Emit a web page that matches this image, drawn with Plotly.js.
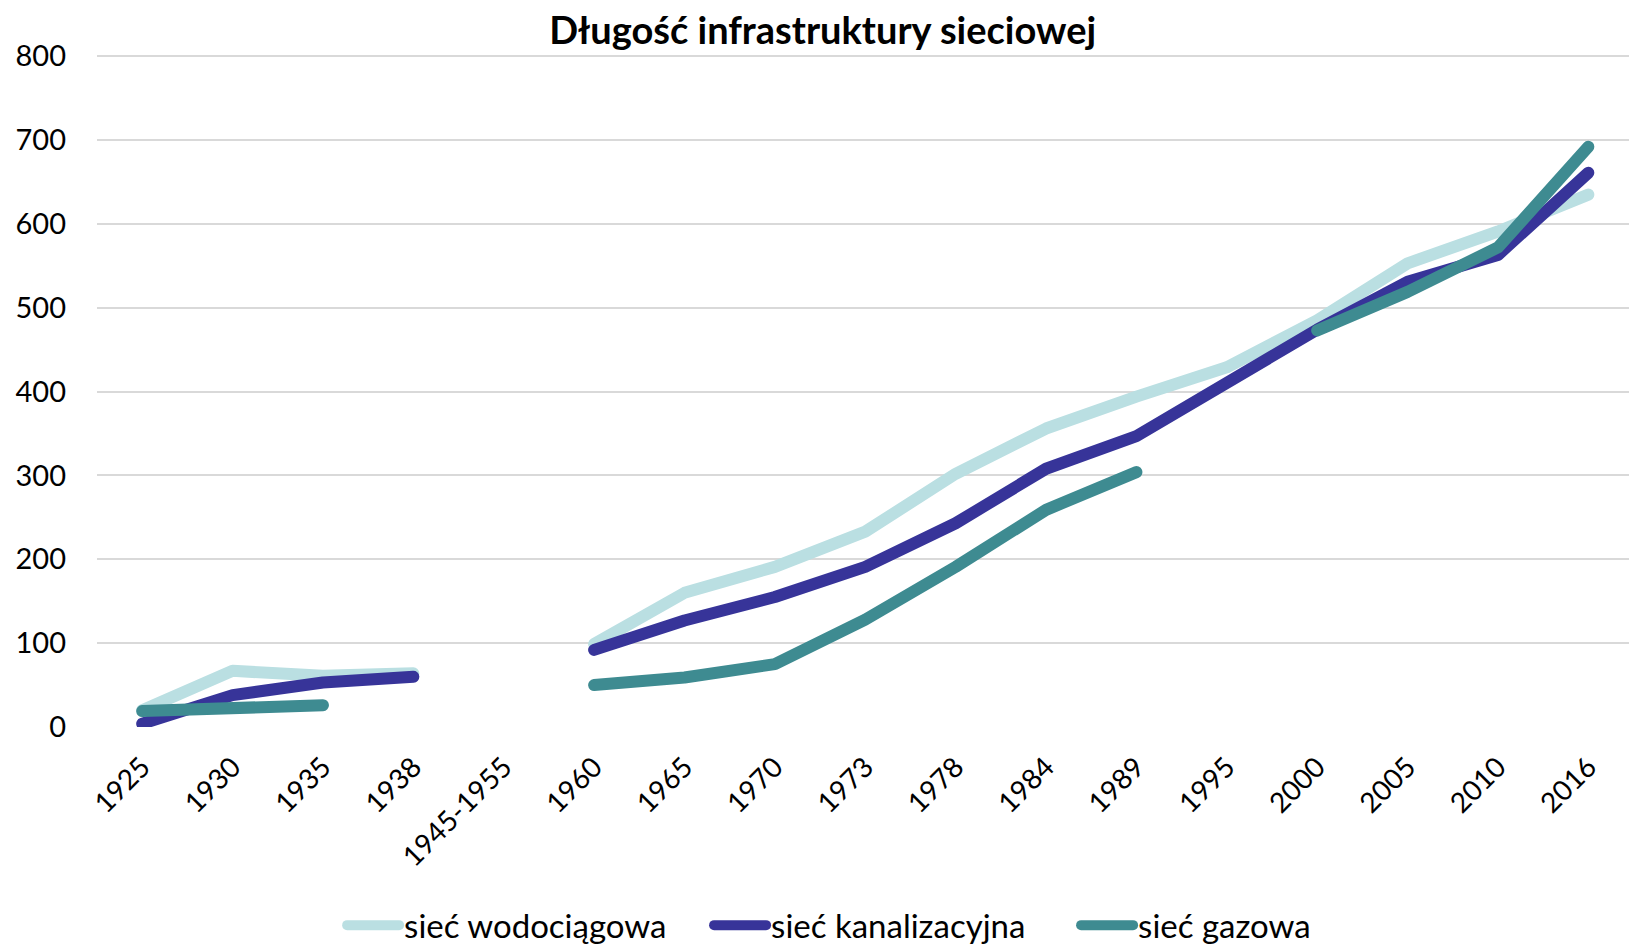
<!DOCTYPE html>
<html>
<head>
<meta charset="utf-8">
<script src="https://cdn.plot.ly/plotly-3.0.1.min.js"></script>
<style>html,body{margin:0;padding:0;background:#fff;}#chart{width:1629px;height:946px;}</style>
</head>
<body>
<div id="chart"></div>
<script>
const categories = ["1925","1930","1935","1938","1945-1955","1960","1965","1970","1973","1978","1984","1989","1995","2000","2005","2010","2016"];
const siecWodociagowa = [20, 67, 61, 64, null, 99, 160, 191, 233, 302, 356, 394, 429, 485, 553, 591, 635];
const siecKanalizacyjna = [4, 38, 53, 60, null, 92, 127, 155, 191, 243, 308, 347, 411, 474, 531, 563, 661];
const siecGazowa = [19, 21, 26, null, null, 50, 59, 75, 128, 191, 259, 304, null, 473, 519, 572, 692];
const seriesNames = ["sieć wodociągowa", "sieć kanalizacyjna", "sieć gazowa"];
const yTicks = [0, 100, 200, 300, 400, 500, 600, 700, 800];

const FONT = "Lato, 'Open Sans', sans-serif";
const colors = ["#BADFE2", "#373499", "#3E8B91"];
const allSeries = [siecWodociagowa, siecKanalizacyjna, siecGazowa];

const traces = allSeries.map((vals, i) => ({
  type: "scatter",
  mode: "lines",
  name: seriesNames[i],
  x: categories,
  y: vals,
  connectgaps: false,
  line: {color: colors[i], width: 12, shape: "linear"},
  hoverinfo: "x+y+name"
}));

const layout = {
  width: 1629,
  height: 946,
  paper_bgcolor: "#ffffff",
  plot_bgcolor: "#ffffff",
  margin: {l: 97, r: 0, t: 55, b: 219, autoexpand: false},
  font: {family: FONT, color: "#000", size: 29},
  title: {
    text: "<b>Długość infrastruktury sieciowej</b>",
    font: {family: FONT, size: 38, color: "#000"},
    x: 0.505, xanchor: "center",
    y: 0.968, yanchor: "middle"
  },
  xaxis: {
    type: "category",
    range: [-0.5, 16.45],
    tickangle: -45,
    showgrid: false,
    zeroline: false,
    showline: false,
    ticks: "",
    ticklabelstandoff: 17,
    tickfont: {family: FONT, size: 28, color: "#000"}
  },
  yaxis: {
    range: [0, 801.5],
    tickvals: yTicks,
    ticktext: yTicks.map(String),
    showgrid: true,
    gridcolor: "#D9D9D9",
    gridwidth: 2,
    zeroline: false,
    showline: false,
    ticks: "",
    ticklabelstandoff: 30,
    tickfont: {family: FONT, size: 29, color: "#000"}
  },
  showlegend: true,
  legend: {
    orientation: "h",
    xref: "container", yref: "container",
    x: 0.21, xanchor: "left",
    y: 0.022, yanchor: "middle",
    font: {family: FONT, size: 33, color: "#000"},
    itemwidth: 52,
    entrywidth: 300,
    tracegroupgap: 0,
    bgcolor: "rgba(0,0,0,0)"
  },
  hovermode: "closest"
};

function roundCaps() {
  document.querySelectorAll("#chart path.js-line, #chart .legendlines path").forEach(p => {
    p.style.strokeLinecap = "round";
    p.style.strokeLinejoin = "round";
  });
}

Plotly.newPlot("chart", traces, layout, {displayModeBar: false}).then(gd => {
  roundCaps();
  gd.on("plotly_afterplot", roundCaps);
});
</script>
</body>
</html>
